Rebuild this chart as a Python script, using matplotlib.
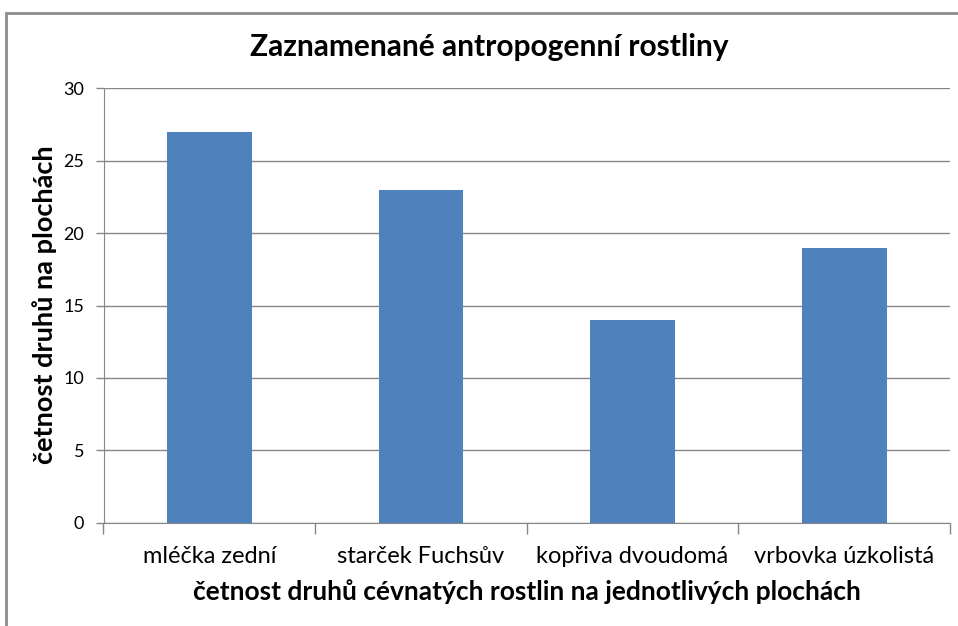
import numpy as np
import matplotlib
matplotlib.use("Agg")
import matplotlib.pyplot as plt
from matplotlib.patches import Rectangle

# data
plants = ['mléčka zední', 'starček Fuchsův', 'kopřiva dvoudomá', 'vrbovka úzkolistá']
counts = [27, 23, 14, 19]
yticks = [0, 5, 10, 15, 20, 25, 30]

plt.rcParams['font.family'] = ['Lato', 'DejaVu Sans']

W, H = 958, 626
fig = plt.figure(figsize=(W / 100, H / 100), dpi=100)

# chart border (runs off right / bottom like the screenshot)
fig.patches.append(Rectangle((6 / W, -0.05), 1.05, 1 - 13 / H + 0.05,
                             transform=fig.transFigure, fill=False,
                             edgecolor='#8c8c8c', linewidth=2))

left, right, top, bottom = 103.5, 950, 88.3, 522.7
ax = fig.add_axes([left / W, 1 - bottom / H, (right - left) / W, (bottom - top) / H])

x = np.arange(len(plants))
ax.bar(x, counts, width=0.4, color='#4F81BD', zorder=3)

ax.set_xlim(-0.5, len(plants) - 0.5)
ax.set_ylim(0, 30)
ax.set_yticks(yticks)
ax.yaxis.grid(True, color='#868686', linewidth=1, zorder=0)

# category boundaries as tick marks
ax.set_xticks(np.arange(len(plants) + 1) - 0.5)
ax.set_xticklabels([])
ax.set_xticks(x, minor=True)
ax.set_xticklabels(plants, minor=True, fontsize=17)
ax.tick_params(axis='x', which='major', length=8, color='#868686', width=1)
ax.tick_params(axis='x', which='minor', length=0, pad=17)
ax.tick_params(axis='y', length=6, color='#868686', width=1, labelsize=13,
               pad=8)

for s in ['top', 'right']:
    ax.spines[s].set_visible(False)
for s in ['left', 'bottom']:
    ax.spines[s].set_color('#868686')

fig.text(489 / W, 1 - 47 / H, 'Zaznamenané antropogenní rostliny',
         ha='center', va='center', fontsize=21.5, fontweight='bold')
fig.text(527 / W, 1 - 592 / H,
         'četnost druhů cévnatých rostlin na jednotlivých plochách',
         ha='center', va='center', fontsize=19, fontweight='bold')
fig.text(45 / W, 1 - 305 / H, 'četnost druhů na plochách', rotation=90,
         ha='center', va='center', fontsize=19.5, fontweight='bold')

fig.savefig('out.png', dpi=100)
